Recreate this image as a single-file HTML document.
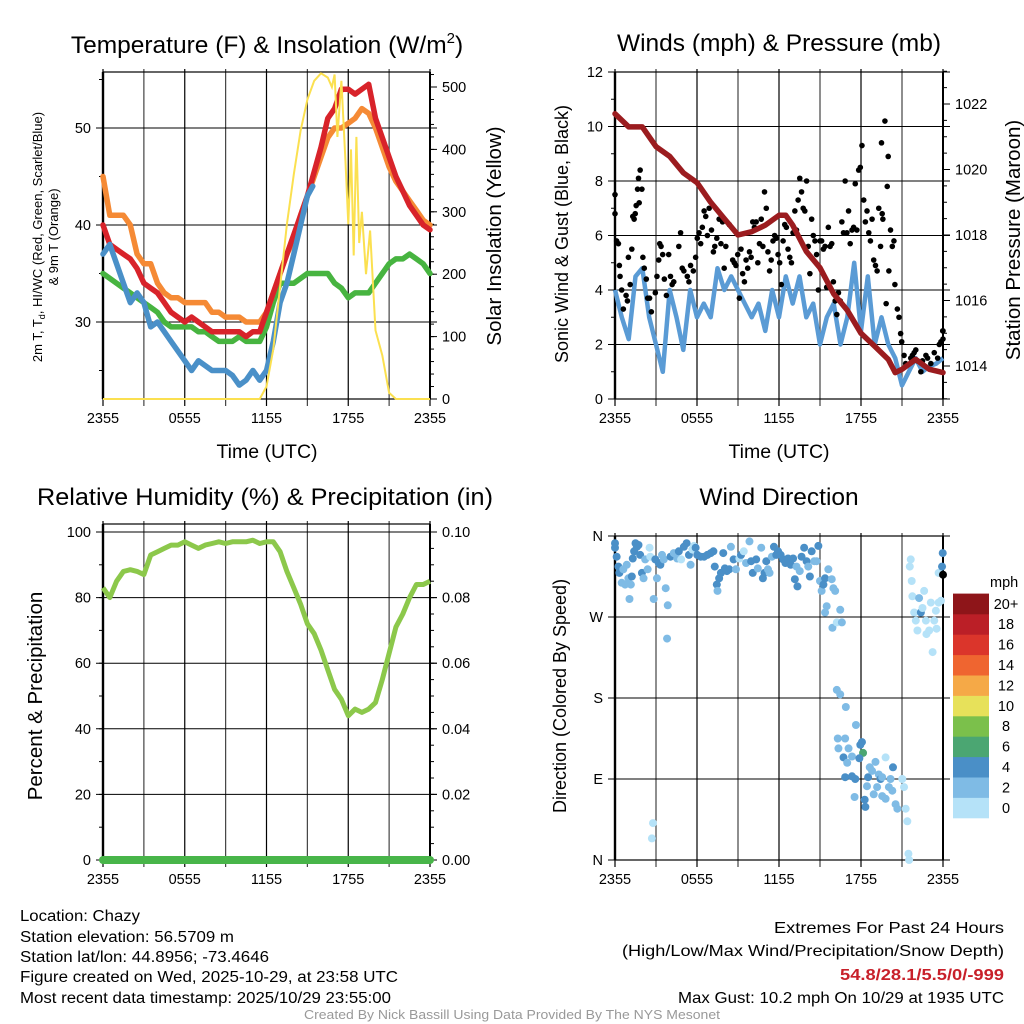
<!DOCTYPE html>
<html><head><meta charset="utf-8"><style>
html,body{margin:0;padding:0;background:#fff}
svg{display:block;font-family:"Liberation Sans",sans-serif}
</style></head><body>
<svg id="chart" width="1024" height="1024" viewBox="0 0 1024 1024" xmlns="http://www.w3.org/2000/svg">
<rect width="1024" height="1024" fill="#fff"/>
<g id="g-tl"></g>
<g id="g-tr"></g>
<g id="g-bl"></g>
<g id="g-br"></g>
<text x="267" y="53" font-size="24.5" text-anchor="middle">Temperature (F) &amp; Insolation (W/m<tspan font-size="15" dy="-10">2</tspan><tspan dy="10">)</tspan></text>
<text x="779" y="51" font-size="24.5" text-anchor="middle">Winds (mph) &amp; Pressure (mb)</text>
<text x="265" y="505" font-size="24.5" text-anchor="middle" textLength="456" lengthAdjust="spacingAndGlyphs">Relative Humidity (%) &amp; Precipitation (in)</text>
<text x="779" y="505" font-size="24.5" text-anchor="middle">Wind Direction</text>
<g font-size="15.5">
<text x="20" y="921" textLength="120" lengthAdjust="spacingAndGlyphs">Location: Chazy</text>
<text x="20" y="942" textLength="214" lengthAdjust="spacingAndGlyphs">Station elevation: 56.5709 m</text>
<text x="20" y="962" textLength="249" lengthAdjust="spacingAndGlyphs">Station lat/lon: 44.8956; -73.4646</text>
<text x="20" y="982" textLength="378" lengthAdjust="spacingAndGlyphs">Figure created on Wed, 2025-10-29, at 23:58 UTC</text>
<text x="20" y="1003" textLength="371" lengthAdjust="spacingAndGlyphs">Most recent data timestamp: 2025/10/29 23:55:00</text>
</g>
<g font-size="16">
<text x="774" y="933" textLength="230" lengthAdjust="spacingAndGlyphs">Extremes For Past 24 Hours</text>
<text x="622" y="956" textLength="382" lengthAdjust="spacingAndGlyphs">(High/Low/Max Wind/Precipitation/Snow Depth)</text>
<text x="840" y="980" fill="#c8202a" font-weight="bold" textLength="164" lengthAdjust="spacingAndGlyphs">54.8/28.1/5.5/0/-999</text>
<text x="678" y="1003" textLength="326" lengthAdjust="spacingAndGlyphs">Max Gust: 10.2 mph On 10/29 at 1935 UTC</text>
</g>
<text x="304" y="1019" font-size="13" fill="#999" textLength="416" lengthAdjust="spacingAndGlyphs">Created By Nick Bassill Using Data Provided By The NYS Mesonet</text>
</svg>
<script>
// ---------- DATA ----------
const timeLabels = ["2355","0555","1155","1755","2355"];
const halfHours = []; for (let i=0;i<=48;i++) halfHours.push(i/2);
const tempRed = [40,38,37.5,37,36.5,35.5,34,33.5,33,32,31,30.5,30,30.5,30,29.5,29,29,29,29,29,28.5,29,29,31,33,35,37,39,41,43,45.5,48,51,52,54,54,53.5,54,54.5,51,49,47,45,43.5,42,41,40,39.5];
const temp9m = [45,41,41,41,40,37,36,36,34,33,32.5,32.5,32,32,32,32,31,31,30.5,30.5,30.5,30,30,30,31,33,35,37,38.5,41,43,45,47,49,50,50,50.5,51,52,51.5,50,48,46,44.5,43.5,42.5,41.5,40.5,40];
const dewGreen = [35,34.5,34,33.5,33,32.5,32,31.5,31,30,29.5,29.5,29.5,29.5,29,29,28.5,28,28,28,28.5,28,28,28,29.5,32,34,34,34,34.5,35,35,35,35,34,33.5,32.5,33,33,33,34,35,36,36.5,36.5,37,36.5,36,35];
const hiwcHours = [0,0.5,1,1.5,2,2.5,3,3.5,4,4.5,5,5.5,6,6.5,7,7.5,8,8.5,9,9.5,10,10.5,11,11.5,12,12.5,13,13.5,14,14.5,15,15.4];
const hiwcBlue = [37,38,36,34,32,33,32,29.5,30,29,28,27,26,25,26,25.5,25,25,25,24.5,23.5,24,25,24,25,28,32,34,37,40,43,44];
const solarHours = [0,11.5,12,12.5,13,13.5,14,14.5,15,15.5,16,16.5,16.8,17,17.2,17.5,17.8,18,18.2,18.4,18.6,18.8,19,19.3,19.6,20,20.5,21,21.5,24];
const solarVals = [0,0,20,80,180,280,360,430,480,510,522,515,500,520,420,510,380,280,400,230,420,250,300,200,270,110,70,10,0,0];
const tempTicks = [30,40,50]; const solarTicks = [0,100,200,300,400,500];

const windVals = [4,3,2.2,4.5,4.8,3,2,1,4,3,1.8,4,3,3.5,3,4.8,4,4.5,4,3.5,3,3.5,2.5,4,3,4.5,3.5,4.5,3,3.5,2,3,3.5,2,3,5,2.5,4.5,2,3,2,1.5,0.5,1,1.5,1,1.2,1.3,1.5];
const pressHours = [0,1,2,3,4,5,6,7,8,9,10,11,12,12.5,13,14,15,16,17,18,19,20,20.5,21,22,23,24];
const pressVals = [1021.7,1021.3,1021.3,1020.7,1020.4,1019.9,1019.6,1019,1018.5,1018.0,1018.1,1018.3,1018.6,1018.6,1018.3,1017.5,1017.0,1016.2,1015.7,1015.0,1014.6,1014.2,1013.8,1013.9,1014.2,1013.9,1013.8];
const gustHours = [0,0,0.12,0.25,0.32,0.37,0.49,0.61,0.81,0.91,0.98,1.11,1.23,1.30,1.40,1.48,1.55,1.65,1.72,1.77,1.84,1.97,2.04,2.14,2.29,2.39,2.53,2.66,2.95,3.07,3.20,3.27,3.37,3.49,3.61,3.76,3.93,4.06,4.18,4.30,4.67,4.80,4.92,5.04,5.29,5.41,5.53,5.73,5.90,6.02,6.15,6.27,6.39,6.52,6.64,6.76,6.89,7.06,7.20,7.30,7.45,7.62,7.75,7.87,7.99,8.11,8.36,8.61,8.73,8.85,8.98,9.10,9.22,9.34,9.47,9.59,9.71,9.84,9.96,10.08,10.20,10.33,10.45,10.57,10.70,10.82,10.94,11.07,11.19,11.31,11.43,11.56,11.68,11.80,11.93,12.05,12.17,12.30,12.42,12.54,12.66,12.79,12.91,13.03,13.16,13.28,13.40,13.52,13.65,13.77,13.89,14.02,14.14,14.26,14.39,14.51,14.63,14.75,14.88,15.00,15.12,15.25,15.37,15.49,15.61,15.74,15.86,15.98,16.11,16.23,16.35,16.48,16.60,16.72,16.84,16.97,17.09,17.21,17.34,17.46,17.58,17.70,17.83,17.95,18.07,18.20,18.32,18.44,18.57,18.69,18.81,18.93,19.06,19.18,19.30,19.43,19.50,19.55,19.60,19.75,19.84,19.92,19.99,20.04,20.16,20.29,20.41,20.48,20.66,20.78,20.90,20.98,21.15,21.27,21.64,21.76,21.89,22.01,22.13,22.38,22.50,22.75,22.87,23.11,23.36,23.61,23.73,23.85,23.98,24,24];
const gustVals = [6.8,7.5,5.8,5.7,4.9,4.5,4,3.3,3.8,3.6,5.2,4.2,5.5,6.7,6.6,6.8,7.1,7.7,8.1,7.2,8.4,7.7,5.2,4.8,4.4,3.7,3.7,3.2,3.9,4.5,5.1,5.7,5.6,5.3,4.4,3.8,5.3,4.5,4.2,4.3,5.6,6.1,4.8,4.7,4.5,4.3,4.9,4.7,5.2,5.9,6.1,5.7,6.3,6.9,6.7,6.0,7.0,6.2,5.4,5.6,5.9,6.6,5.7,6.5,4.8,5.6,6.4,5.1,5.0,4.9,5.3,3.7,5.5,4.6,4.3,5.1,4.8,5.4,5.2,6.5,6.3,6.5,5.0,5.7,6.6,5.6,7.6,7.0,5.4,4.7,5.1,5.8,6.0,5.9,5.3,5.0,4.2,5.8,6.4,6.3,5.5,5.2,5.0,6.1,6.9,6.2,7.3,8.1,7.6,7.0,6.9,8.0,5.6,4.6,6.6,6.0,5.8,5.3,4.0,5.8,5.8,5.5,5.6,4.1,6.3,5.6,5.7,4.3,3.6,3.1,3.9,3.6,6.5,6.1,8.0,6.1,6.9,5.7,6.2,6.3,7.9,6.2,8.4,8.5,9.3,7.3,6.5,6.9,6.1,5.8,6.6,5.1,4.9,4.7,7.0,5.6,9.4,6.8,6.6,10.2,3.5,7.8,8.9,4.7,6.2,5.6,5.8,4.2,3.3,3.0,2.4,2.1,1.6,1.3,1.5,1.6,1.7,1.8,1.4,1.0,1.4,1.6,1.5,1.3,1.7,1.5,2.0,2.1,2.5,2.2,2.5];
const windTicks = [0,2,4,6,8,10,12]; const pressTicks = [1014,1016,1018,1020,1022];

const rhVals = [83,80,85,88,88.5,88,87,93,94,95,96,96,97,96,95,96,96.5,97,96.5,97,97,97,97.5,96.5,97,97,94,88,83,78,72,69,64,58,52,49,44,46,45,46,48,55,63,71,75,80,84,84,85];
const precipVals = halfHours.map(()=>0);
const rhTicks = [0,20,40,60,80,100]; const precipTicks = ["0.00","0.02","0.04","0.06","0.08","0.10"];

const dirHours = [0,0,0.12,0.25,0.32,0.49,0.61,0.74,0.86,0.98,1.06,1.16,1.23,1.30,1.40,1.50,1.60,1.72,1.84,1.97,2.09,2.21,2.39,2.53,2.58,2.83,2.95,3.07,3.20,3.32,3.44,3.57,3.71,3.81,3.86,4.06,4.30,4.55,4.67,4.84,5.04,5.24,5.41,5.53,5.66,5.78,5.90,6.02,6.27,6.52,6.76,7.01,7.20,7.30,7.45,7.50,7.62,7.75,7.92,8.04,8.19,8.36,8.48,8.68,8.85,9.10,9.22,9.42,9.59,9.84,9.96,10.08,10.33,10.45,10.70,10.82,10.94,11.07,11.19,11.31,11.48,11.63,11.80,11.93,12.12,12.30,12.47,12.66,12.86,13.03,13.16,13.28,13.35,13.52,13.65,13.84,14.02,14.14,14.26,14.39,14.58,14.75,14.88,15.00,15.12,15.25,15.37,15.49,15.37,15.61,15.86,15.98,16.11,15.91,16.23,16.48,16.60,16.23,16.48,16.89,17.63,16.30,16.84,16.35,17.09,16.72,16.99,17.34,17.95,18.07,18.15,17.88,17.34,16.84,17.58,17.53,18.27,18.32,18.52,18.64,19.06,18.81,19.30,19.43,19.55,19.80,20.04,20.34,20.16,20.29,20.53,20.66,18.44,18.93,19.55,19.18,19.80,21.02,21.15,21.27,21.39,21.47,21.52,2.78,2.70,21.64,21.71,21.57,21.76,21.89,22.01,22.13,22.25,22.38,22.50,22.62,22.75,22.79,22.99,23.11,23.24,23.36,23.48,23.53,23.68,23.85,23.68,23.98,23.93,24.0];
const dirDeg = [352,347,337,326,319,308,323,306,328,313,290,306,315,335,343,352,348,350,339,319,313,334,323,347,337,290,334,313,330,328,339,334,302,246,283,337,341,335,343,334,348,352,339,328,345,349,347,339,337,337,339,341,343,326,306,299,313,319,341,324,321,323,348,334,323,335,339,343,330,354,332,319,334,324,347,313,319,332,323,319,337,348,339,343,339,334,330,335,328,335,312,326,304,321,337,347,332,326,315,343,332,332,349,310,299,306,313,282,275,323,312,302,299,258,264,278,264,189,184,170,150,135,135,124,124,114,108,115,128,131,119,113,93,92,90,70,67,59,92,103,109,99,95,90,92,114,81,103,90,77,62,57,82,73,71,81,68,90,81,57,43,7,0,41,24,334,310,326,293,275,266,255,291,275,280,299,266,251,255,286,231,266,277,257,286,288,319,341,326,317];
const dirSpeed = [5,5,5,5,5,3,3,3,3,3,3,3,5,5,5,5,5,5,5,5,3,3,3,1,1,3,5,3,5,5,3,3,3,3,3,5,3,3,5,1,5,5,5,3,1,1,5,5,5,5,5,5,5,5,5,3,5,5,5,5,5,5,3,5,3,1,5,1,3,3,5,5,5,3,3,5,5,5,3,3,3,5,5,5,5,5,5,5,5,5,5,3,5,3,5,5,5,3,5,5,3,3,5,3,3,5,5,3,3,3,3,3,3,3,1,3,3,3,3,3,3,3,3,3,3,5,3,3,5,5,7,5,5,5,5,3,5,5,5,3,3,3,3,5,3,1,3,5,3,3,3,3,3,3,3,3,3,1,1,1,1,1,1,1,1,1,1,1,1,1,1,1,3,5,1,1,1,1,1,1,1,1,1,1,1,1,1,5,5];
const dirLabels = ["N","E","S","W","N"]; const dirTicks = [0,90,180,270,360];
const legendLabels = ["0","2","4","6","8","10","12","14","16","18","20+"];
const legendColors = ["#b5e2f8","#7fbbe5","#4a8fc7","#4ba672","#7bc04b","#e7e15a","#f5a947","#ef6530","#db352b","#bb1f27","#8e1519"];

// ---------- HELPERS ----------
const NS="http://www.w3.org/2000/svg";
function mk(parent,tag,attrs){const e=document.createElementNS(NS,tag);for(const k in attrs)e.setAttribute(k,attrs[k]);parent.appendChild(e);return e;}
const X0=103,X1=430,X0b=615,X1b=943;
function xScale(x0,x1){return h=>x0+(x1-x0)*h/24;}
function lin(d0,d1,p0,p1){return v=>p0+(v-d0)*(p1-p0)/(d1-d0);}
function pathFrom(xs,ys,fx,fy){let d="";for(let i=0;i<xs.length;i++){d+=(i?"L":"M")+fx(xs[i]).toFixed(1)+","+fy(ys[i]).toFixed(1);}return d;}

function frame(g,x0,x1,top,bot,leftTicks,fyL,leftLabels,rightTicks,fyR,rightLabels,minorL,minorR){
  const fx=xScale(x0,x1);
  for(let i=0;i<=8;i++){const x=fx(i*3);
    const l=mk(g,"line",{x1:x,x2:x,y1:top-3,y2:bot+7,stroke:(i%2?"#444":"#000"),"stroke-width":1.2});
    
    }
  leftTicks.forEach((v,i)=>{const y=fyL(v);
    const l=mk(g,"line",{x1:x0-7,x2:x1+7,y1:y,y2:y,stroke:"#000","stroke-width":1});
    
    
    const t=mk(g,"text",{x:x0-12,y:y+5,"font-size":14.5,"text-anchor":"end"});t.textContent=leftLabels[i];
    
    });
  minorL.forEach(v=>{const y=fyL(v);mk(g,"line",{x1:x0-4,x2:x0,y1:y,y2:y,stroke:"#000"});});
  if(rightTicks){rightTicks.forEach((v,i)=>{const y=fyR(v);
    mk(g,"line",{x1:x1,x2:x1+7,y1:y,y2:y,stroke:"#000"});
    const t=mk(g,"text",{x:x1+12,y:y+5,"font-size":14.5});t.textContent=rightLabels[i];
    
    });
    minorR.forEach(v=>{const y=fyR(v);mk(g,"line",{x1:x1,x2:x1+4,y1:y,y2:y,stroke:"#000"});});}
  mk(g,"rect",{x:x0,y:top,width:x1-x0,height:bot-top,fill:"none",stroke:"#000","stroke-width":1.2});
  mk(g,"line",{x1:x0,x2:x0,y1:top,y2:bot,stroke:"#000","stroke-width":2.4});
  mk(g,"line",{x1:x1,x2:x1,y1:top,y2:bot,stroke:"#000","stroke-width":2});
  timeLabels.forEach((s,i)=>{const t=mk(g,"text",{x:fx(i*6),y:bot+24,"font-size":14.5,"text-anchor":"middle"});t.textContent=s;
    
    });
  return fx;
}
function rng(a,b,s){const r=[];for(let v=a;v<=b+1e-9;v+=s)r.push(+v.toFixed(4));return r;}

// ---------- TOP LEFT ----------
(function(){
  const g=document.getElementById("g-tl");
  const top=72,bot=399;
  const fy=lin(30,50,322,128), fs=lin(0,500,399,87);
  const fx=frame(g,X0,X1,top,bot,tempTicks,fy,tempTicks.map(String),solarTicks,fs,solarTicks.map(String),rng(25,55,5),rng(0,520,20));
  const series=[[halfHours,dewGreen,"#47b440","dewpoint-line"],[halfHours,temp9m,"#f58a35","temp-9m-line"],[halfHours,tempRed,"#d8232a","temp-2m-line"],[hiwcHours,hiwcBlue,"#4a90c8","heat-index-windchill-line"]];
  series.forEach(s=>{const p=mk(g,"path",{d:pathFrom(s[0],s[1],fx,fy),fill:"none",stroke:s[2],"stroke-width":5.5,"stroke-linejoin":"round","stroke-linecap":"round"});
    
    });
  const sp=mk(g,"path",{d:pathFrom(solarHours,solarVals,fx,fs),fill:"none",stroke:"#fbe050","stroke-width":2});
  
  
  const xt=mk(g,"text",{x:267,y:458,"font-size":19.5,"text-anchor":"middle"});xt.textContent="Time (UTC)";
  
  
  const yt=mk(g,"text",{transform:"translate(42,237) rotate(-90)","font-size":13,"text-anchor":"middle"});
  yt.innerHTML='2m T, T<tspan font-size="9" dy="3">d</tspan><tspan dy="-3">, HI/WC (Red, Green, Scarlet/Blue)</tspan>';
  
  
  const yt2=mk(g,"text",{transform:"translate(58,237) rotate(-90)","font-size":13,"text-anchor":"middle"});yt2.textContent="& 9m T (Orange)";
  
  
  const rt=mk(g,"text",{transform:"translate(501,236) rotate(-90)","font-size":20.5,"text-anchor":"middle"});rt.textContent="Solar Insolation (Yellow)";
  
  
})();

// ---------- TOP RIGHT ----------
(function(){
  const g=document.getElementById("g-tr");
  const top=72,bot=399;
  const fy=lin(0,12,399,72), fp=lin(1014,1022,366,104);
  const fx=frame(g,X0b,X1b,top,bot,windTicks,fy,windTicks.map(String),pressTicks,fp,pressTicks.map(String),rng(0,12,1),rng(1013,1023,0.5));
  const wl=mk(g,"path",{d:pathFrom(halfHours,windVals,fx,fy),fill:"none",stroke:"#5a9bd5","stroke-width":4.5,"stroke-linejoin":"round"});
  
  
  gustHours.forEach((h,i)=>{const c=mk(g,"circle",{cx:fx(h),cy:fy(gustVals[i]),r:2.8,fill:"#000"});
    
    });
  const pl=mk(g,"path",{d:pathFrom(pressHours,pressVals,fx,fp),fill:"none",stroke:"#9b1c1f","stroke-width":5.5,"stroke-linejoin":"round","stroke-linecap":"round"});
  
  
  const xt=mk(g,"text",{x:779,y:458,"font-size":19.5,"text-anchor":"middle"});xt.textContent="Time (UTC)";
  
  
  const yt=mk(g,"text",{transform:"translate(568,234) rotate(-90)","font-size":18,"text-anchor":"middle"});yt.textContent="Sonic Wind & Gust (Blue, Black)";
  
  
  const rt=mk(g,"text",{transform:"translate(1020,240) rotate(-90)","font-size":20.5,"text-anchor":"middle"});rt.textContent="Station Pressure (Maroon)";
  
  
})();

// ---------- BOTTOM LEFT ----------
(function(){
  const g=document.getElementById("g-bl");
  const top=532,bot=860;
  const fy=lin(0,100,860,532), fpr=lin(0,0.1,860,532);
  const fx=frame(g,X0,X1,top-8,bot,rhTicks,fy,rhTicks.map(String),precipTicks.map(Number),fpr,precipTicks,rng(0,100,10),rng(0,0.1,0.005));
  const pr=mk(g,"path",{d:pathFrom(halfHours,precipVals,fx,fpr),fill:"none",stroke:"#48b549","stroke-width":8,"stroke-linecap":"round"});
  
  
  const rl=mk(g,"path",{d:pathFrom(halfHours,rhVals,fx,fy),fill:"none",stroke:"#8cc84b","stroke-width":5,"stroke-linejoin":"round"});
  
  
  const yt=mk(g,"text",{transform:"translate(42,696) rotate(-90)","font-size":20.5,"text-anchor":"middle"});yt.textContent="Percent & Precipitation";
  
  
})();

// ---------- BOTTOM RIGHT ----------
(function(){
  const g=document.getElementById("g-br");
  const top=536,bot=860;
  const fy=lin(0,360,860,536);
  const fx=frame(g,X0b,X1b,top,bot,dirTicks,fy,dirLabels,null,null,null,[],[]);
  function col(s){return legendColors[Math.min(10,Math.max(0,Math.floor(s/2)))];}
  dirHours.forEach((h,i)=>{const c=mk(g,"circle",{cx:fx(h),cy:fy(dirDeg[i]),r:4,fill:col(dirSpeed[i])});
    
    });
  const yt=mk(g,"text",{transform:"translate(566,696) rotate(-90)","font-size":18,"text-anchor":"middle"});yt.textContent="Direction (Colored By Speed)";
  
  
  const lg=mk(g,"g",{});
  
  
  const lt=mk(lg,"text",{x:990,y:587,"font-size":14.5});lt.textContent="mph";
  const bh=20.4;
  legendLabels.forEach((s,i)=>{const y=818-(i+1)*bh;
    const r=mk(lg,"rect",{x:953,y:y,width:36,height:bh+0.3,fill:legendColors[i]});
    
    
    const t=mk(lg,"text",{x:1006,y:y+bh/2+5,"font-size":14.5,"text-anchor":"middle"});t.textContent=s;
    
    });
})();
</script>
</body></html>
